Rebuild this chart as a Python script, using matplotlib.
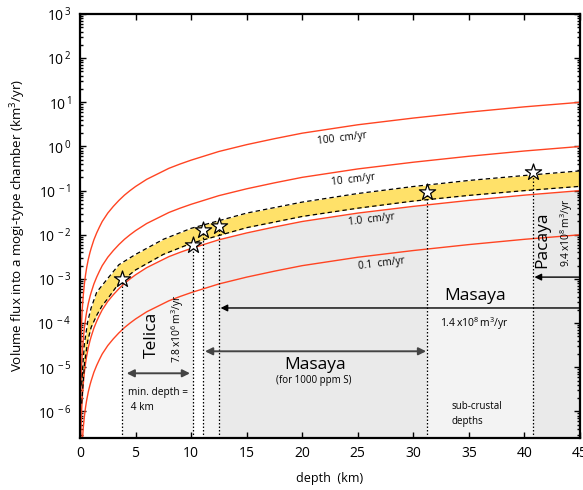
import matplotlib
matplotlib.use('Agg')
import matplotlib.pyplot as plt
from matplotlib.patches import Rectangle
from matplotlib.ticker import FixedLocator, FixedFormatter, LogLocator, NullFormatter

plt.rcParams['font.family'] = ['Open Sans', 'DejaVu Sans']
plt.rcParams['axes.unicode_minus'] = False
plt.rcParams['mathtext.fontset'] = 'custom'
plt.rcParams['mathtext.rm'] = 'Open Sans'

# ---------------- data ----------------
depth_km = [0.005, 0.01, 0.02, 0.03, 0.05, 0.075, 0.1, 0.15, 0.2, 0.3, 0.4, 0.5, 0.6, 0.75, 0.9,
            1.0, 1.25, 1.5, 1.75, 2.0, 2.5, 3.0, 3.5, 4, 4.5, 5, 6, 7, 8, 9, 10, 12.5, 15, 17.5,
            20, 25, 30, 35, 40, 45]
flux_100cm = [1.24e-7, 4.9e-7, 2.0e-6, 4.4e-6, 1.24e-5, 2.8e-5, 4.9e-5, 1.1e-4, 2.0e-4, 4.4e-4,
              7.9e-4, 1.24e-3, 1.8e-3, 2.8e-3, 4.0e-3, 4.9e-3, 7.7e-3, 1.1e-2, 1.5e-2, 2.0e-2,
              3.1e-2, 4.4e-2, 6.0e-2, 7.9e-2, 0.10, 0.124, 0.18, 0.24, 0.32, 0.40, 0.49, 0.77,
              1.1, 1.5, 2.0, 3.1, 4.4, 6.0, 7.9, 10.0]
flux_10cm = [1.24e-8, 4.9e-8, 2.0e-7, 4.4e-7, 1.24e-6, 2.8e-6, 4.9e-6, 1.1e-5, 2.0e-5, 4.4e-5,
             7.9e-5, 1.24e-4, 1.8e-4, 2.8e-4, 4.0e-4, 4.9e-4, 7.7e-4, 1.1e-3, 1.5e-3, 2.0e-3,
             3.1e-3, 4.4e-3, 6.0e-3, 7.9e-3, 1.0e-2, 1.24e-2, 1.8e-2, 2.4e-2, 3.2e-2, 4.0e-2,
             4.9e-2, 7.7e-2, 0.11, 0.15, 0.20, 0.31, 0.44, 0.60, 0.79, 1.0]
flux_1cm = [1.24e-9, 4.9e-9, 2.0e-8, 4.4e-8, 1.24e-7, 2.8e-7, 4.9e-7, 1.1e-6, 2.0e-6, 4.4e-6,
            7.9e-6, 1.24e-5, 1.8e-5, 2.8e-5, 4.0e-5, 4.9e-5, 7.7e-5, 1.1e-4, 1.5e-4, 2.0e-4,
            3.1e-4, 4.4e-4, 6.0e-4, 7.9e-4, 1.0e-3, 1.24e-3, 1.8e-3, 2.4e-3, 3.2e-3, 4.0e-3,
            4.9e-3, 7.7e-3, 1.1e-2, 1.5e-2, 2.0e-2, 3.1e-2, 4.4e-2, 6.0e-2, 7.9e-2, 0.10]
flux_01cm = [1.24e-10, 4.9e-10, 2.0e-9, 4.4e-9, 1.24e-8, 2.8e-8, 4.9e-8, 1.1e-7, 2.0e-7, 4.4e-7,
             7.9e-7, 1.24e-6, 1.8e-6, 2.8e-6, 4.0e-6, 4.9e-6, 7.7e-6, 1.1e-5, 1.5e-5, 2.0e-5,
             3.1e-5, 4.4e-5, 6.0e-5, 7.9e-5, 1.0e-4, 1.24e-4, 1.8e-4, 2.4e-4, 3.2e-4, 4.0e-4,
             4.9e-4, 7.7e-4, 1.1e-3, 1.5e-3, 2.0e-3, 3.1e-3, 4.4e-3, 6.0e-3, 7.9e-3, 1.0e-2]
curve_labels = ['100  cm/yr', '10  cm/yr', '1.0  cm/yr', '0.1  cm/yr']
curve_label_depth = [23.6, 24.6, 26.2, 27.1]
curve_label_flux = [1.55, 0.18, 0.022, 2.2e-3]

band_depth = [0.15, 0.25, 0.4, 0.7, 1.0, 1.5, 2.0, 2.5, 3.5, 5, 7.5, 10, 15, 20, 25, 30, 35, 40, 45]
band_upper = [4e-6, 1.05e-5, 3.5e-5, 1.1e-4, 2.2e-4, 5.0e-4, 7.2e-4, 1.03e-3, 2.1e-3, 3.6e-3,
              7.9e-3, 1.4e-2, 3.1e-2, 5.5e-2, 8.6e-2, 0.124, 0.17, 0.22, 0.28]
band_lower = [1.5e-6, 3.5e-6, 1.2e-5, 4.0e-5, 8.0e-5, 1.5e-4, 2.5e-4, 3.6e-4, 8.0e-4, 1.6e-3,
              3.6e-3, 6.4e-3, 1.45e-2, 2.6e-2, 4.0e-2, 5.8e-2, 7.8e-2, 0.10, 0.125]

star_depth = [3.75, 10.2, 11.05, 12.5, 31.25, 40.75]
star_flux = [1.0e-3, 6.0e-3, 1.26e-2, 1.55e-2, 9.1e-2, 2.7e-1]

shade_ranges = [(3.75, 10.2), (11.05, 12.5), (12.5, 31.25), (31.25, 40.75), (40.75, 45)]
shade_colors = ['#F3F3F3', '#F3F3F3', '#EAEAEA', '#F3F3F3', '#EAEAEA']

xticks = [0, 5, 10, 15, 20, 25, 30, 35, 40, 45]
yticks = [1e-6, 1e-5, 1e-4, 1e-3, 1e-2, 1e-1, 1e0, 1e1, 1e2, 1e3]
ytick_labels = [r'$\mathregular{10^{\,-6}}$', r'$\mathregular{10^{\,-5}}$', r'$\mathregular{10^{\,-4}}$',
                r'$\mathregular{10^{\,-3}}$', r'$\mathregular{10^{\,-2}}$', r'$\mathregular{10^{\,-1}}$',
                r'$\mathregular{10^{\,0}}$', r'$\mathregular{10^{\,1}}$', r'$\mathregular{10^{\,2}}$',
                r'$\mathregular{10^{\,3}}$']

YMIN, YMAX = 2.5e-7, 1e3

# ---------------- figure ----------------
fig = plt.figure(figsize=(5.83, 4.90), dpi=100)
ax = fig.add_axes([80/583, 52/490, 500/583, 424/490])
ax.set_yscale('log')
ax.set_xlim(0, 45)
ax.set_ylim(YMIN, YMAX)

# shaded depth ranges below the 1.0 cm/yr curve
for (x0, x1), c in zip(shade_ranges, shade_colors):
    poly = ax.fill_between(depth_km, YMIN, flux_1cm, color=c, lw=0, zorder=1)
    clip = Rectangle((x0, YMIN), x1 - x0, YMAX - YMIN, transform=ax.transData)
    poly.set_clip_path(clip)

# yellow band
ax.fill_between(band_depth, band_lower, band_upper, color='#FFE169', lw=0, zorder=2)
ax.plot(band_depth, band_upper, ls=(0, (3.5, 2.5)), color='black', lw=0.9, zorder=4)
ax.plot(band_depth, band_lower, ls=(0, (3.5, 2.5)), color='black', lw=0.9, zorder=4)

# uplift-rate curves
red = '#FF4422'
for f in (flux_100cm, flux_10cm, flux_1cm, flux_01cm):
    ax.plot(depth_km, f, color=red, lw=1.0, zorder=3)
for lab, d, f in zip(curve_labels, curve_label_depth, curve_label_flux):
    ax.text(d, f, lab, fontsize=7.3, rotation=7, ha='center', va='center', zorder=5)

# dotted verticals and stars
ax.vlines(star_depth, YMIN, star_flux, colors='black', linestyles=(0, (1.2, 1.6)), lw=0.9, zorder=4)
ax.scatter(star_depth, star_flux, marker='*', s=150, facecolor='white', edgecolor='black',
           linewidth=0.9, zorder=6)

# arrows
ax.annotate('', xy=(4.2, 7.3e-6), xytext=(9.9, 7.3e-6),
            arrowprops=dict(arrowstyle='<|-|>', color='#444444', lw=1.4,
                            mutation_scale=11, shrinkA=0, shrinkB=0), zorder=5)
ax.annotate('', xy=(11.25, 2.3e-5), xytext=(31.15, 2.3e-5),
            arrowprops=dict(arrowstyle='<|-|>', color='#444444', lw=1.4,
                            mutation_scale=11, shrinkA=0, shrinkB=0), zorder=5)
ax.annotate('', xy=(12.65, 2.2e-4), xytext=(45, 2.2e-4),
            arrowprops=dict(arrowstyle='-|>', color='black', lw=1.0,
                            mutation_scale=10, shrinkA=0, shrinkB=0), zorder=5)
ax.annotate('', xy=(40.9, 1.1e-3), xytext=(45, 1.1e-3),
            arrowprops=dict(arrowstyle='-|>', color='black', lw=1.0,
                            mutation_scale=10, shrinkA=0, shrinkB=0), zorder=5)

# annotations
ax.text(6.5, 5.5e-5, 'Telica', fontsize=12.5, rotation=90, ha='center', va='center', zorder=5)
ax.text(8.75, 7.5e-5, r'7.8$\mathregular{\,x10^{6}\,m^{3}/yr}$', fontsize=7.5, rotation=90,
        ha='center', va='center', zorder=5)
ax.text(4.3, 3.6e-6, 'min. depth =\n 4 km', fontsize=7.3, ha='left', va='top',
        linespacing=1.5, zorder=5)
ax.text(21.2, 1.15e-5, 'Masaya', fontsize=12.5, ha='center', va='center', zorder=5)
ax.text(21.0, 4.9e-6, '(for 1000 ppm S)', fontsize=7, ha='center', va='center', zorder=5)
ax.text(35.6, 4.2e-4, 'Masaya', fontsize=12.5, ha='center', va='center', zorder=5)
ax.text(35.5, 1.0e-4, r'1.4$\mathregular{\,x10^{8}\,m^{3}/yr}$', fontsize=7.5,
        ha='center', va='center', zorder=5)
ax.text(41.6, 7.7e-3, 'Pacaya', fontsize=12.5, rotation=90, ha='center', va='center', zorder=5)
ax.text(43.8, 1.15e-2, r'9.4$\mathregular{\,x10^{8}\,m^{3}/yr}$', fontsize=7.5, rotation=90,
        ha='center', va='center', zorder=5)
ax.text(33.4, 1.7e-6, 'sub-crustal\ndepths', fontsize=7, ha='left', va='top',
        linespacing=1.5, zorder=5)

# axes styling
ax.xaxis.set_major_locator(FixedLocator(xticks))
ax.yaxis.set_major_locator(FixedLocator(yticks))
ax.yaxis.set_major_formatter(FixedFormatter(ytick_labels))
ax.yaxis.set_minor_locator(LogLocator(base=10, subs=[2, 3, 4, 5, 6, 7, 8, 9], numticks=20))
ax.yaxis.set_minor_formatter(NullFormatter())
ax.tick_params(which='both', direction='in', top=True, right=True, width=1.0, colors='black')
ax.tick_params(which='major', length=4.5, labelsize=10, pad=6)
ax.tick_params(which='minor', length=2.5)
for s in ax.spines.values():
    s.set_linewidth(1.6)
    s.set_zorder(7)

ax.set_xlabel('depth  (km)', fontsize=9, labelpad=8)
ax.set_ylabel(r'Volume flux into a mogi-type chamber (km$\mathregular{^{3}}$/yr)', fontsize=9.6,
              labelpad=7)

fig.savefig('out.png', dpi=100)
